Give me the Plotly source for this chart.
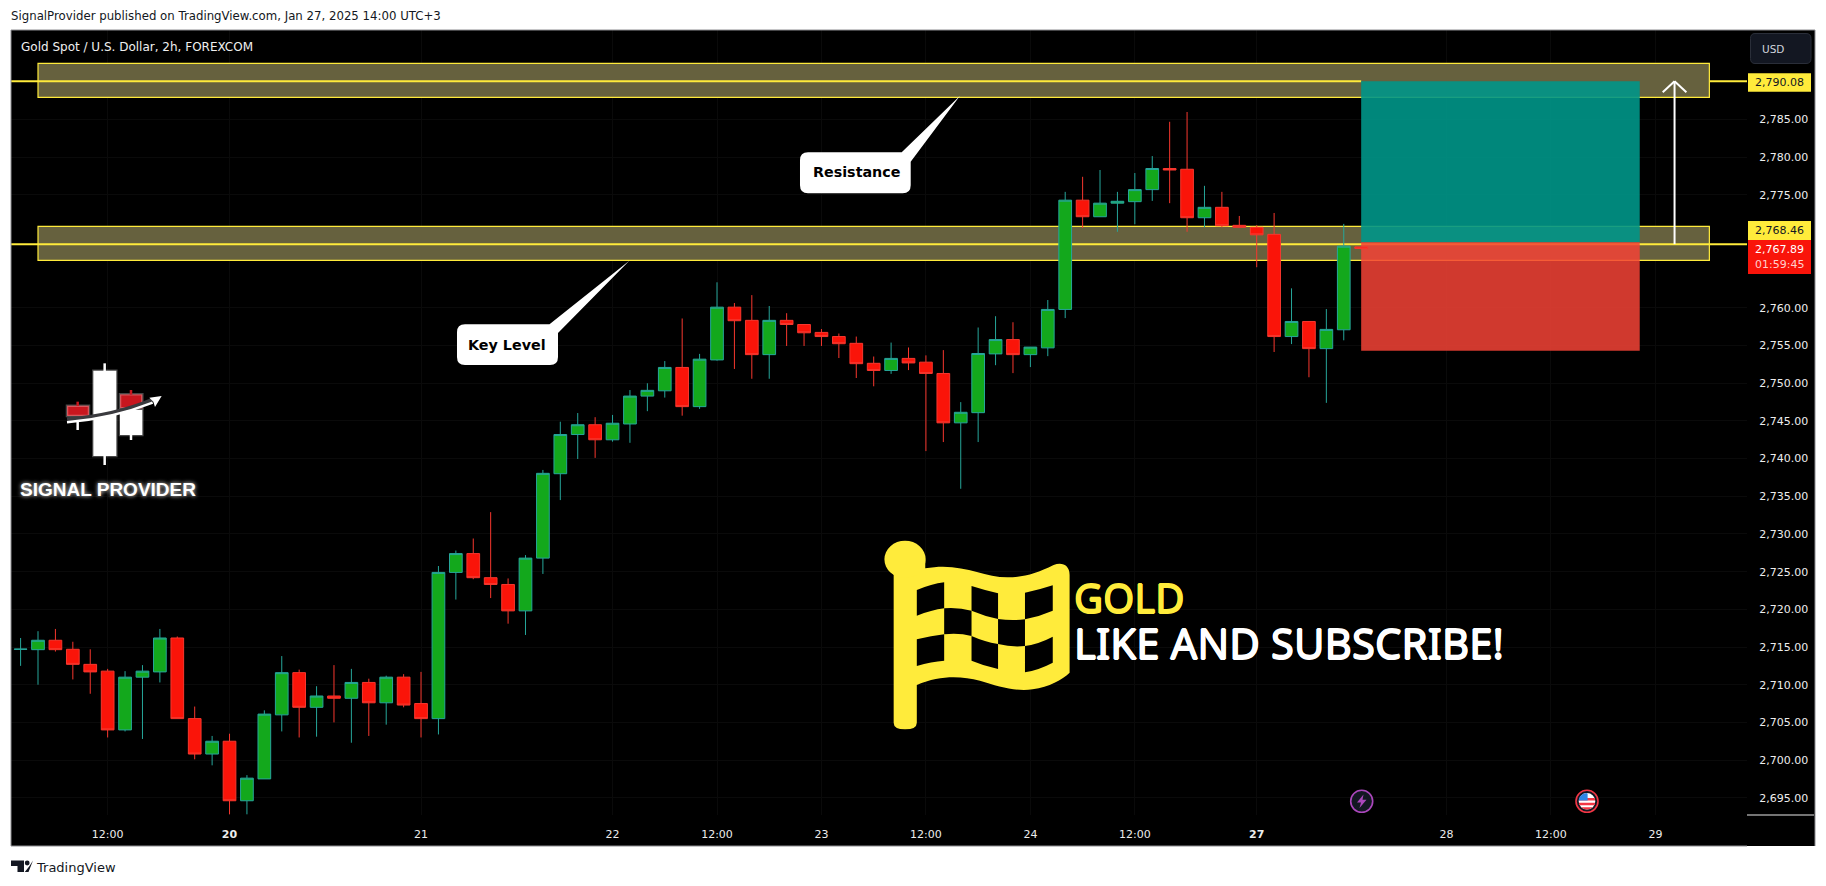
import numpy as np
import plotly.graph_objects as go

# ---------- data ----------
opens = [2714.69,2714.65,2715.9,2714.7,2712.7,2711.8,2704.0,2711.0,2711.7,2716.2,
         2705.5,2700.8,2702.5,2694.6,2697.5,2706.0,2711.6,2707.0,2708.5,2708.2,
         2710.3,2707.6,2711.0,2707.5,2705.5,2724.9,2727.4,2724.2,2723.3,2719.8,
         2726.8,2738.0,2743.2,2744.5,2742.5,2744.6,2748.3,2749.0,2752.1,2746.9,
         2753.1,2760.1,2758.35,2753.8,2758.35,2757.8,2756.75,2756.2,2755.3,2752.65,
         2751.7,2753.3,2752.8,2751.3,2744.75,2746.1,2753.9,2755.8,2753.8,2754.7,
         2759.8,2774.3,2772.1,2773.9,2774.1,2775.7,2778.5,2778.4,2771.97,2773.35,
         2770.96,2770.7,2769.76,2756.2,2758.2,2754.6,2757.1,2768.1]
highs = [2716.2,2717.1,2717.4,2715.7,2714.7,2712.1,2711.8,2712.6,2717.4,2716.4,
         2707.1,2703.2,2703.5,2698.0,2706.6,2713.8,2712.0,2709.8,2712.6,2712.1,
         2710.8,2711.2,2711.4,2711.7,2725.75,2727.8,2729.4,2732.9,2724.1,2727.2,
         2738.5,2744.9,2746.05,2745.5,2745.8,2749.1,2750.0,2752.95,2758.6,2753.9,
         2763.4,2760.65,2761.7,2760.25,2759.3,2757.8,2757.2,2756.6,2756.2,2753.55,
         2755.4,2754.75,2753.7,2754.4,2747.5,2757.4,2758.9,2758.1,2754.8,2761.05,
         2775.4,2777.4,2778.3,2775.4,2777.9,2780.15,2784.7,2786.0,2776.2,2775.4,
         2772.2,2771.0,2772.6,2762.6,2758.2,2759.85,2771.15,2768.1]
lows = [2712.5,2710.0,2714.4,2710.7,2708.8,2703.0,2703.8,2702.8,2710.3,2705.5,
        2700.1,2699.3,2692.8,2692.8,2697.5,2703.8,2703.0,2703.1,2705.0,2702.3,
        2703.2,2704.7,2707.0,2703.0,2703.4,2721.3,2724.0,2721.5,2718.1,2716.6,
        2724.7,2734.5,2739.95,2740.1,2742.25,2742.1,2746.3,2748.1,2745.7,2746.6,
        2753.0,2751.9,2750.6,2750.6,2754.95,2754.95,2754.95,2753.35,2750.7,2749.6,
        2751.25,2751.75,2741.0,2742.2,2736.0,2742.2,2752.4,2751.35,2752.15,2753.6,
        2758.65,2770.6,2772.1,2770.1,2771.1,2774.2,2773.9,2770.1,2770.7,2770.7,
        2770.7,2765.4,2754.15,2755.2,2750.8,2747.4,2755.7,2767.75]
closes = [2714.72,2715.9,2714.65,2712.7,2711.7,2704.0,2711.0,2711.8,2716.2,2705.5,
          2700.8,2702.5,2694.6,2697.6,2706.1,2711.6,2707.0,2708.5,2708.2,2710.3,
          2707.6,2711.0,2707.3,2705.5,2724.9,2727.4,2724.2,2723.3,2719.8,2726.8,
          2738.05,2743.2,2744.5,2742.5,2744.7,2748.3,2749.06,2752.1,2746.9,2753.2,
          2760.1,2758.3,2753.8,2758.35,2757.8,2756.7,2756.2,2755.25,2752.6,2751.7,
          2753.3,2752.7,2751.3,2744.75,2746.15,2753.95,2755.8,2753.8,2754.8,2759.8,
          2774.3,2772.1,2773.9,2774.15,2775.7,2778.5,2778.3,2771.97,2773.35,2770.9,
          2770.7,2769.7,2756.2,2758.2,2754.6,2757.15,2768.2,2767.89]
bar_index = list(range(len(opens)))

price_ticks = [2695, 2700, 2705, 2710, 2715, 2720, 2725, 2730, 2735, 2740,
               2745, 2750, 2755, 2760, 2775, 2780, 2785]
time_tick_pos = [5, 12, 23, 34, 40, 46, 52, 58, 64, 71, 81.9, 87.9, 93.9]
time_tick_text = ["12:00", "<b>20</b>", "21", "22", "12:00", "23", "12:00", "24",
                  "12:00", "<b>27</b>", "28", "12:00", "29"]

resistance_zone = (2787.95, 2792.46)
key_zone = (2766.32, 2770.83)
resistance_price = 2790.08
key_price = 2768.46
entry_price = 2768.7
stop_price = 2754.32
zone_span = (1, 97)
trade_span = (77, 93)
arrow_bar = 95

# ---------- page geometry ----------
W, H = 1826, 886
L, R, T, B = 11, 1747, 30, 815
x_range = [(L - 20.6) / 17.41, (R - 20.6) / 17.41]


def px(x):
    return (x - L) / (R - L)


def py(y):
    return (B - y) / (B - T)


def path(cmd, fx=lambda v: v, fy=lambda v: v):
    out, is_x = [], True
    for tok in cmd.split():
        if tok.isalpha():
            out.append(tok)
            is_x = True
        else:
            v = float(tok)
            out.append(f"{px(fx(v)):.5f}" if is_x else f"{py(fy(v)):.5f}")
            is_x = not is_x
    return " ".join(out)


shapes = []


def paper_rect(x0, y0, x1, y1, fill, line=None, lw=0, layer="above"):
    shapes.append(dict(type="rect", xref="paper", yref="paper", x0=px(x0), x1=px(x1),
                       y0=py(y1), y1=py(y0), fillcolor=fill, layer=layer,
                       line=dict(color=line or fill, width=lw)))


def paper_path(d, fill=None, line=None, lw=0, layer="above"):
    s = dict(type="path", xref="paper", yref="paper", path=d, layer=layer,
             line=dict(color=line or "rgba(0,0,0,0)", width=lw))
    if fill:
        s["fillcolor"] = fill
    shapes.append(s)


def paper_circle(cx, cy, rx, ry, fill, line=None, lw=0):
    shapes.append(dict(type="circle", xref="paper", yref="paper",
                       x0=px(cx - rx), x1=px(cx + rx), y0=py(cy + ry), y1=py(cy - ry),
                       fillcolor=fill, line=dict(color=line or fill, width=lw)))


def data_rect(xs, ys, fill, line=None, lw=0):
    shapes.append(dict(type="rect", xref="x", yref="y", x0=xs[0], x1=xs[1], y0=ys[0], y1=ys[1],
                       fillcolor=fill, layer="between", line=dict(color=line or fill, width=lw)))


def level(x0, x1, price):
    shapes.append(dict(type="line", xref="x", yref="y", x0=x0, x1=x1, y0=price, y1=price,
                       layer="between", line=dict(color=YEL, width=2)))


# panel background and frame
paper_rect(11, 30, 1815, 846, "#000000", "#000000", 0, layer="below")

# zones and levels
YEL = "#FFEB3B"
ZONE = "#66613E"
for z in (resistance_zone, key_zone):
    data_rect(zone_span, z, ZONE, YEL, 1.2)
level(x_range[0], trade_span[0], resistance_price)
level(zone_span[1], x_range[1], resistance_price)
level(x_range[0], x_range[1], key_price)
data_rect(trade_span, (entry_price, resistance_price), "rgba(0,150,136,0.9)")
data_rect(trade_span, (stop_price, entry_price), "rgba(244,67,54,0.85)")

# target arrow
for seg in ((arrow_bar, key_price, arrow_bar, resistance_price),
            (arrow_bar - 0.68, resistance_price - 1.45, arrow_bar, resistance_price),
            (arrow_bar + 0.68, resistance_price - 1.45, arrow_bar, resistance_price)):
    shapes.append(dict(type="line", xref="x", yref="y", x0=seg[0], y0=seg[1], x1=seg[2], y1=seg[3],
                       line=dict(color="#FFFFFF", width=2)))

# frame
for a in ((11, 30, 1815, 30), (11, 30, 11, 846), (1815, 30, 1815, 846), (11, 846, 1747, 846)):
    shapes.append(dict(type="line", xref="paper", yref="paper", x0=px(a[0]), y0=py(a[1]),
                       x1=px(a[2]), y1=py(a[3]), line=dict(color="#8C8C90", width=1)))
shapes.append(dict(type="line", xref="paper", yref="paper", x0=px(1747), y0=py(815),
                   x1=px(1814), y1=py(815), line=dict(color="#E8E8E8", width=1)))

# price badges
paper_rect(1748, 73.3, 1811, 91.7, YEL)
paper_rect(1748, 221, 1811, 240, YEL)
paper_rect(1748, 240, 1811, 274, "#F9140A")
paper_path(path("M 1755 33.5 L 1806 33.5 Q 1811 33.5 1811 38.5 L 1811 58.5 Q 1811 63.5 1806 63.5 "
                "L 1755 63.5 Q 1750.5 63.5 1750.5 58.5 L 1750.5 38.5 Q 1750.5 33.5 1755 33.5 Z"),
           fill="#131722", line="#2A2E39", lw=1)


# speech bubbles
def bubble(x0, y0, x1, y1, tip, b1, b2):
    r = 8
    d = (f"M {x0 + r} {y0} L {b1[0]} {b1[1]} L {tip[0]} {tip[1]} L {b2[0]} {b2[1]} L {x1} {y1 - r} "
         f"Q {x1} {y1} {x1 - r} {y1} L {x0 + r} {y1} Q {x0} {y1} {x0} {y1 - r} L {x0} {y0 + r} "
         f"Q {x0} {y0} {x0 + r} {y0} Z")
    paper_path(path(d), fill="#FFFFFF")


bubble(800, 152.3, 910.7, 193.3, (960, 95.7), (901.7, 152.3), (910.7, 161.7))
bubble(457, 324.3, 558, 365, (629.3, 260.7), (549.5, 324.3), (558, 333))

# bottom icons
paper_circle(1361.7, 801.3, 11, 11, "#131722", "#AB47BC", 1.6)
paper_path(path("M 1363.5 794.5 L 1357 802.5 L 1361 802.5 L 1359.5 808 L 1366.5 799.8 L 1362.5 799.8 Z"),
           fill="#AB47BC")
fc = (1587.0, 801.3)
paper_circle(fc[0], fc[1], 11, 11, "#131722", "#F23645", 1.6)
paper_circle(fc[0], fc[1], 8.3, 8.3, "#FFFFFF")


def chord(y0, y1, x_limit=None, color="#F23645"):
    r = 8.3
    ys = np.linspace(y0, y1, 10)
    xs = np.sqrt(np.maximum(r * r - ys * ys, 0))
    right = xs if x_limit is None else np.minimum(xs, x_limit)
    pts = [(-a, b) for a, b in zip(xs, ys)] + [(a, b) for a, b in zip(right[::-1], ys[::-1])]
    d = "M " + " L ".join(f"{fc[0] + a:.2f} {fc[1] + b:.2f}" for a, b in pts) + " Z"
    paper_path(path(d), fill=color)


chord(-3.2, -0.8)
chord(1.5, 4)
chord(6, 8.3)
chord(-8.3, -0.8, 0.6, "#2E86E6")

# flag (outline traced in a 2.376 x 3 crop with origin 860,520)
fx = lambda v: 860 + v / 2.376
fy = lambda v: 520 + v / 3
FLAG = "#FFEB3B"
paper_path(path("M 80 175 L 80 608 Q 80 628 107 628 Q 135 628 135 608 L 135 495 "
                "C 190 465 240 468 285 482 C 330 500 370 515 410 508 C 450 500 480 480 498 458 "
                "L 498 165 C 498 135 480 125 460 135 C 420 160 390 172 350 172 "
                "C 290 172 240 125 155 145 L 155 120 L 80 150 Z", fx, fy), fill=FLAG)
paper_circle(fx(107), fy(118), 49 / 2.376, 56 / 3, FLAG)
cells = [
    "M 135 210 Q 170 192 200 187 L 200 265 Q 170 270 135 287 Z",
    "M 265 198 Q 295 210 328 220 L 328 297 Q 295 288 265 272 Z",
    "M 392 218 Q 425 210 458 196 L 458 272 Q 425 290 392 298 Z",
    "M 200 265 Q 235 262 265 272 L 265 348 Q 235 338 200 343 Z",
    "M 328 297 Q 360 303 392 298 L 392 378 Q 360 382 328 372 Z",
    "M 135 358 Q 170 347 200 343 L 200 422 Q 170 425 135 438 Z",
    "M 265 348 Q 295 365 328 372 L 328 447 Q 295 438 265 422 Z",
    "M 392 378 Q 425 372 458 350 L 458 428 Q 425 450 392 457 Z",
]
for c in cells:
    paper_path(path(c, fx, fy), fill="#000000")

# signal-provider logo (crop origin 0,350 at 3x)
lx = lambda v: v / 3
ly = lambda v: 350 + v / 3
GLOW = "rgba(255,255,255,0.28)"
for rx0, ry0, rx1, ry1, col in ((280, 62, 349, 318, "#FFFFFF"), (360, 180, 427, 255, "#FFFFFF"),
                                (201, 167, 267, 198, "#C8161E"), (360, 133, 427, 175, "#C8161E")):
    paper_rect(lx(rx0), ly(ry0), lx(rx1), ly(ry1), col, GLOW, 2.5)
for wx, w0, w1, col in ((314, 40, 345, "#FFFFFF"), (233, 155, 168, "#C8161E"), (233, 215, 240, "#FFFFFF"),
                        (393, 120, 134, "#C8161E"), (393, 255, 270, "#FFFFFF")):
    shapes.append(dict(type="line", xref="paper", yref="paper", x0=px(lx(wx)), x1=px(lx(wx)),
                       y0=py(ly(w0)), y1=py(ly(w1)), line=dict(color=col, width=2.5)))
paper_path(path("M 201 208 Q 340 198 455 150", lx, ly), line="#3A3A3E", lw=4)
paper_path(path("M 201 217 Q 340 205 458 158", lx, ly), line="#FFFFFF", lw=2.5)
paper_path(path("M 448 143 L 485 138 L 465 171 L 460 155 Z", lx, ly), fill="#FFFFFF")

# TradingView mark
paper_path(path("M 11 860.5 L 24 860.5 L 24 872 L 17.5 872 L 17.5 866 L 11 866 Z"), fill="#131722")
paper_circle(27.2, 863, 2.4, 2.4, "#131722")
paper_path(path("M 33 860.5 L 28.5 872 L 24.8 872 L 29.5 866 Z"), fill="#131722")

# ---------- texts ----------
MAIN = "DejaVu Sans"
THICK = "0.7px 0 0 {0}, -0.7px 0 0 {0}, 0 0.7px 0 {0}, 0 -0.7px 0 {0}"
promo = (f'<span style="font-size:40px;fill:{FLAG};text-shadow:{THICK.format(FLAG)}">GOLD</span><br>'
         f'<span style="font-size:42px;fill:#FFFFFF;text-shadow:{THICK.format("#FFFFFF")}">LIKE AND SUBSCRIBE!</span>')
texts = [
    ("SignalProvider published on TradingView.com, Jan 27, 2025 14:00 UTC+3", 8.5, 15.7, "left", MAIN, 11.75, "#131722", None),
    ("Gold Spot / U.S. Dollar, 2h, FOREXCOM", 18.7, 46.7, "left", MAIN, 12, "#F0F0F0", None),
    ("USD", 1772.5, 48.5, "center", MAIN, 10.5, "#D1D4DC", None),
    ("2,790.08", 1779.5, 82.3, "center", MAIN, 11, "#131722", None),
    ("2,768.46", 1779.5, 230, "center", MAIN, 11, "#131722", None),
    ("2,767.89", 1779.5, 249, "center", MAIN, 11, "#FFFFFF", None),
    ("01:59:45", 1779.5, 264, "center", MAIN, 11, "#FFD0CC", None),
    ("<b>Resistance</b>", 856, 172.3, "center", MAIN, 14.3, "#000000", None),
    ("<b>Key Level</b>", 507.5, 344.5, "center", MAIN, 14.3, "#000000", None),
    ("TradingView", 34, 867, "left", MAIN, 13, "#131722", None),
    (promo, 1071.5, 620, "left", "Noto Sans", 35.4, "#FFFFFF", None),
    ("<b>SIGNAL PROVIDER</b>", 107.5, 489.7, "center", "Liberation Sans", 19, "#FFFFFF",
     "0px 0px 4px rgba(255,255,255,0.9)"),
]
annotations = []
for t, x, y, a, f, s, c, sh in texts:
    font = dict(family=f, size=s, color=c)
    if sh:
        font["shadow"] = sh
    annotations.append(dict(text=t, x=px(x), y=py(y), xref="paper", yref="paper", xanchor=a, align=a,
                            yanchor="middle", showarrow=False, font=font))

fig = go.Figure(go.Candlestick(
    x=bar_index, open=opens, high=highs, low=lows, close=closes, whiskerwidth=0,
    increasing=dict(fillcolor="#13A81C", line=dict(color="#26A69A", width=1)),
    decreasing=dict(fillcolor="#FA1409", line=dict(color="#F7372E", width=1)),
    hoverinfo="skip",
))
fig.update_layout(
    width=W, height=H, autosize=False,
    margin=dict(l=L, r=W - R, t=T, b=H - B, pad=0),
    paper_bgcolor="#FFFFFF", plot_bgcolor="#000000", showlegend=False,
    boxgap=0.27, boxgroupgap=0, shapes=shapes, annotations=annotations,
    xaxis=dict(range=x_range, rangeslider=dict(visible=False),
               tickmode="array", tickvals=time_tick_pos, ticktext=time_tick_text,
               gridcolor="#0A0A0A", gridwidth=1, zeroline=False, showline=False,
               ticks="outside", ticklen=9, tickcolor="#000000",
               tickfont=dict(family=MAIN, size=11, color="#EDEDED")),
    yaxis=dict(side="right", range=[2692.71, 2796.88], tickmode="array", tickvals=price_ticks,
               ticktext=[f"{v:,.2f}" for v in price_ticks],
               gridcolor="#0A0A0A", gridwidth=1, zeroline=False, showline=False,
               ticks="outside", ticklen=9, tickcolor="#000000",
               tickfont=dict(family=MAIN, size=11, color="#EDEDED")),
)
fig.write_html("out.html", config=dict(displayModeBar=False),
               post_script="document.body.style.margin='0';")
